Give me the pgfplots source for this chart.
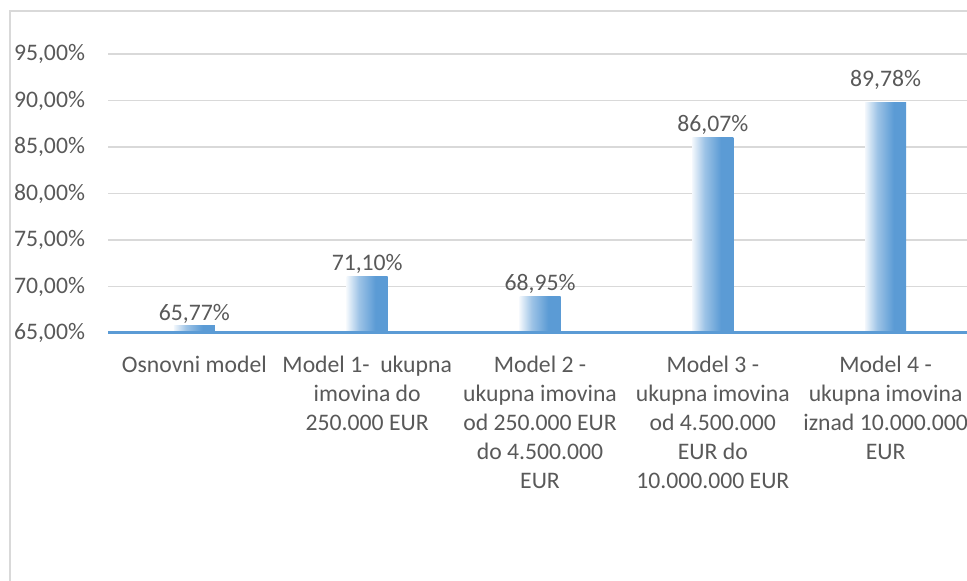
\documentclass[border=0pt]{standalone}
\usepackage{pgfplots}
\pgfplotsset{compat=1.18}
\usepackage{fontspec}
\setmainfont{Carlito}
\definecolor{barblue}{HTML}{5B9BD5}
\definecolor{barlight}{HTML}{F2F7FC}
\definecolor{barmid}{HTML}{9DC3E6}
\definecolor{txtgray}{HTML}{595959}
\definecolor{gridgray}{HTML}{D9D9D9}
\definecolor{framegray}{HTML}{D9D9D9}
\pgfdeclarehorizontalshading{barshade}{100bp}{color(0bp)=(barlight); color(25bp)=(barlight); color(40bp)=(barmid); color(60bp)=(barblue); color(100bp)=(barblue)}
\pgfplotsset{mybar/.style={ybar, bar shift=0pt, bar width=20.5pt, draw=none, shading=barshade,
  nodes near coords={\pgfmathprintnumber[fixed, fixed zerofill, precision=2, use comma, assume math mode=true]{\pgfplotspointmeta}\%},
  nodes near coords style={font=\fontsize{11.85}{14.5}\selectfont, text=txtgray, anchor=south, inner sep=1pt}}}
\begin{document}
\begin{tikzpicture}
\useasboundingbox (0,0) rectangle (483.5pt,-290.5pt);
\draw[framegray, line width=0.75pt] (5pt,-5.5pt) rectangle (520pt,-320pt);
\begin{axis}[
  at={(54pt,-166.5pt)}, anchor=south west,
  scale only axis, width=432pt, height=148.8pt,
  xmin=-0.5, xmax=4.5, ymin=65, ymax=97,
  axis x line*=bottom, axis y line*=left,
  x axis line style={barblue, line width=1.5pt, -},
  y axis line style={draw=none},
  xtick={0,1,2,3,4},
  xticklabels={Osnovni model, Model 1-\ \ ukupna\\imovina do\\250.000 EUR, Model 2 -\\ukupna imovina\\od 250.000 EUR\\do 4.500.000\\EUR, Model 3 -\\ukupna imovina\\od 4.500.000\\EUR do\\10.000.000 EUR, Model 4 -\\ukupna imovina\\iznad 10.000.000\\EUR},
  xticklabel style={align=center, font=\fontsize{11.85}{14.5}\selectfont, text=txtgray, anchor=north, yshift=-8pt},
  major tick length=0pt,
  ytick={65,70,75,80,85,90,95},
  yticklabels={{65,00\%},{70,00\%},{75,00\%},{80,00\%},{85,00\%},{90,00\%},{95,00\%}},
  yticklabel style={font=\fontsize{11.85}{14.5}\selectfont, text=txtgray, anchor=east, xshift=-8pt},
  ymajorgrids, grid style={gridgray, line width=0.75pt},
  clip=false,
]
\addplot[mybar] coordinates {(0,65.77)};
\addplot[mybar] coordinates {(1,71.10)};
\addplot[mybar] coordinates {(2,68.95)};
\addplot[mybar] coordinates {(3,86.07)};
\addplot[mybar, nodes near coords style={yshift=5.5pt}] coordinates {(4,89.78)};
\draw[barblue, line width=1.5pt] (axis cs:-0.5,65) -- (axis cs:4.5,65);
\end{axis}
\end{tikzpicture}
\end{document}
